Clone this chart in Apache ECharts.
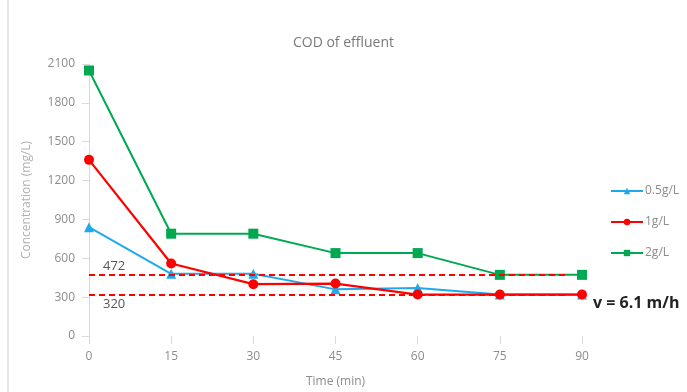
<!DOCTYPE html>
<html>
<head>
<meta charset="utf-8">
<script src="https://cdn.jsdelivr.net/npm/echarts@6/dist/echarts.min.js"></script>
<style>
  html, body { margin: 0; padding: 0; background: #fff; }
  #chart { width: 687px; height: 392px; }
</style>
</head>
<body>
<div id="chart"></div>
<script>
// time points (min)
var times = [0, 15, 30, 45, 60, 75, 90]
var yTicks = [0, 300, 600, 900, 1200, 1500, 1800, 2100]
var low = [840, 480, 480, 360, 370, 320, 320]     // 0.5g/L
var mid = [1360, 560, 400, 405, 320, 320, 320]    // 1g/L
var high = [2050, 790, 790, 640, 640, 472, 472]   // 2g/L
var limits = [472, 320]
var limitEnd = 87

var font = '"Open Sans", "Noto Sans", sans-serif'
var grey = '#8c8c8c'

function pairs(vals) {
  return times.map(function (t, i) { return [t, vals[i]] })
}

var chart = echarts.init(document.getElementById('chart'))
chart.setOption({
  animation: false,
  textStyle: { fontFamily: font },
  title: {
    text: 'COD of effluent',
    left: 'center',
    top: 31,
    textStyle: { fontSize: 14, fontWeight: 'normal', color: '#7a7a7a', fontFamily: font }
  },
  legend: {
    orient: 'vertical',
    left: 605,
    top: 180,
    itemGap: 19,
    itemWidth: 32,
    itemHeight: 8,
    textStyle: { color: grey, fontSize: 12, fontFamily: font, padding: [0, 0, 0, -3] },
    data: ['0.5g/L', '1g/L', '2g/L']
  },
  grid: { left: 89, right: 105, top: 64, bottom: 56, outerBoundsMode: 'none' },
  xAxis: {
    type: 'value',
    min: 0,
    max: 90,
    interval: 15,
    name: 'Time (min)',
    nameLocation: 'middle',
    nameGap: 40,
    nameTextStyle: { color: grey, fontSize: 12 },
    axisLine: { show: false },
    axisTick: { show: true, length: 8, lineStyle: { color: '#d9d9d9' } },
    axisLabel: { color: grey, fontSize: 12, margin: 15 },
    splitLine: { show: false }
  },
  yAxis: {
    type: 'value',
    min: yTicks[0],
    max: yTicks[yTicks.length - 1],
    interval: 300,
    name: 'Concentration (mg/L)',
    nameLocation: 'middle',
    nameGap: 56,
    nameTextStyle: { color: '#b0b0b0', fontSize: 12 },
    axisLine: { show: true, lineStyle: { color: '#d9d9d9' } },
    axisTick: { show: true, inside: false, length: 7, lineStyle: { color: '#d9d9d9' } },
    axisLabel: { color: grey, fontSize: 12, margin: 14, formatter: function (v) { return String(v) } },
    splitLine: { show: false }
  },
  series: [
    {
      name: '0.5g/L',
      type: 'line',
      data: pairs(low),
      symbol: 'triangle',
      symbolSize: 10,
      itemStyle: { color: '#1fa9ec' },
      lineStyle: { color: '#1fa9ec', width: 2 },
      z: 3
    },
    {
      name: '1g/L',
      type: 'line',
      data: pairs(mid),
      symbol: 'circle',
      symbolSize: 10,
      itemStyle: { color: '#ff0000' },
      lineStyle: { color: '#ff0000', width: 2.2 },
      z: 4
    },
    {
      name: '2g/L',
      type: 'line',
      data: pairs(high),
      symbol: 'rect',
      symbolSize: 10,
      itemStyle: { color: '#00a84f' },
      lineStyle: { color: '#00a84f', width: 2 },
      z: 2,
      markLine: {
        silent: true,
        symbol: ['none', 'none'],
        lineStyle: { color: '#ff0000', type: [6, 4], width: 2 },
        label: { color: '#555', fontSize: 13, fontFamily: font },
        data: [
          [
            { coord: [0, limits[0]], label: { show: true, position: 'insideStartTop', formatter: String(limits[0]), distance: [14, 2] } },
            { coord: [limitEnd, limits[0]] }
          ],
          [
            { coord: [0, limits[1]], label: { show: true, position: 'insideStartBottom', formatter: String(limits[1]), distance: [14, 3] } },
            { coord: [limitEnd, limits[1]] }
          ]
        ]
      }
    }
  ],
  graphic: [
    {
      type: 'rect',
      shape: { x: 8, y: -2, width: 700, height: 420 },
      style: { fill: 'none', stroke: '#d0d0d0', lineWidth: 1 },
      silent: true
    },
    {
      type: 'text',
      left: 593,
      top: 295,
      style: { text: 'v = 6.1 m/h', font: 'bold 16px ' + font, fill: '#222' }
    }
  ]
})
</script>
</body>
</html>
